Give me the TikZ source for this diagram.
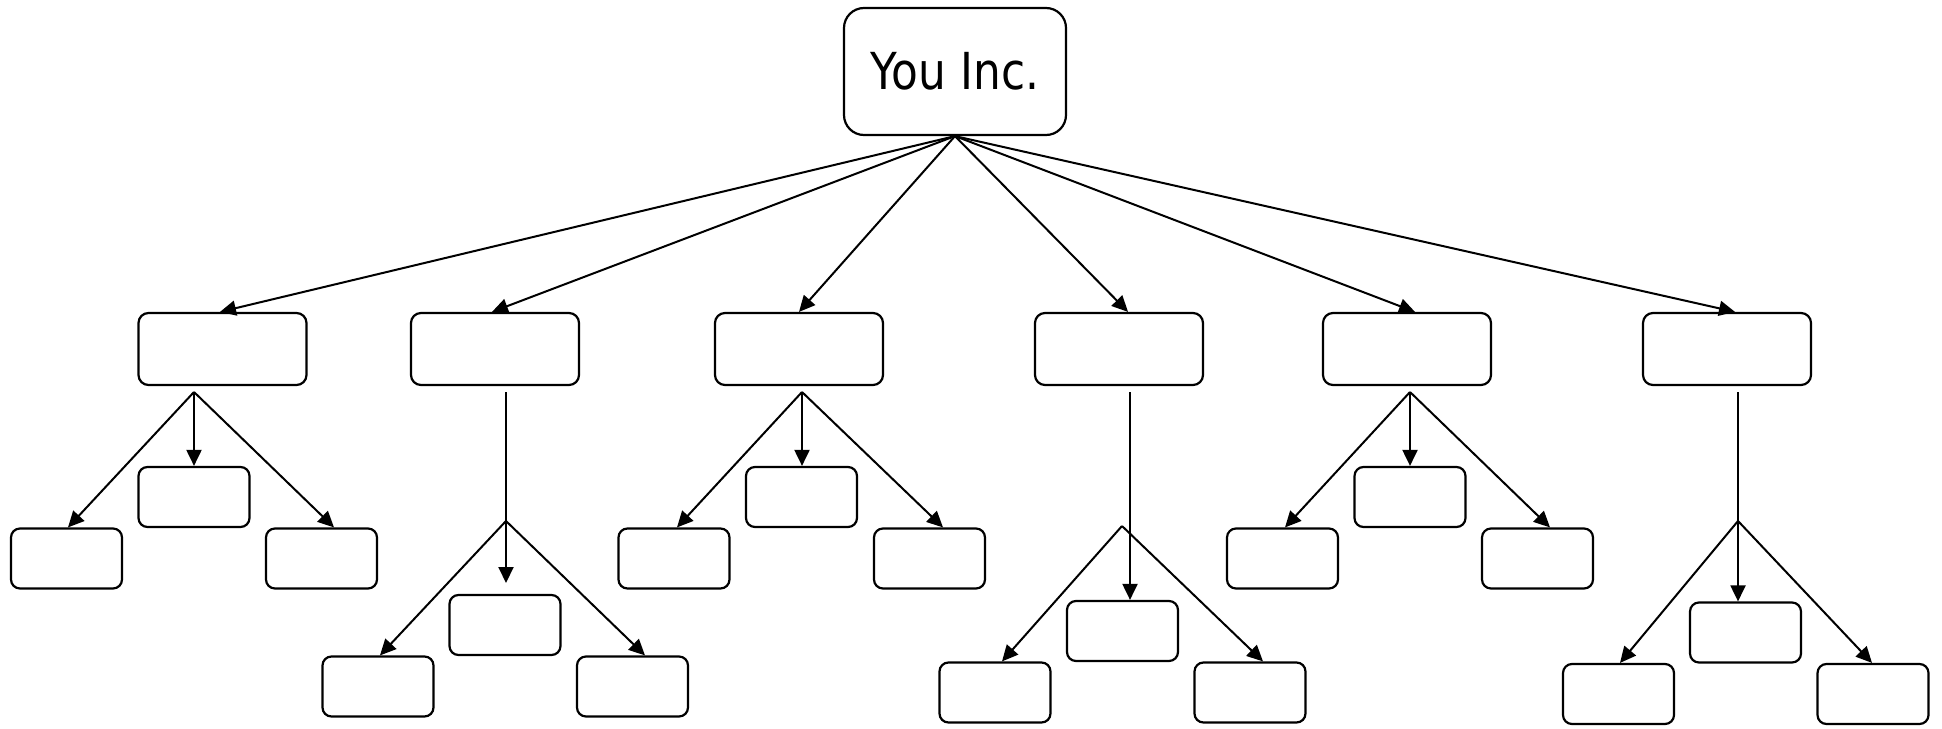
\documentclass[tikz,border=0pt]{standalone}
\usepackage{fontspec}
\newfontfamily\labelfont{DejaVu Sans}
\usetikzlibrary{arrows.meta,calc}
\begin{document}
\begin{tikzpicture}[x=1pt,y=-1pt,
  topbox/.style={draw,line width=2.2pt,rounded corners=20pt,inner sep=0pt,minimum width=222pt,minimum height=127pt},
  midbox/.style={draw,line width=2.2pt,rounded corners=10pt,inner sep=0pt,minimum width=168pt,minimum height=72pt},
  leafbox/.style={draw,line width=2.2pt,rounded corners=9pt,inner sep=0pt,minimum width=111pt,minimum height=60pt},
  conn/.style={line width=2pt,-{Triangle[length=16pt,width=15pt]}},
  stem/.style={line width=2pt}]
\fill[white] (0,0) rectangle (1942,728);
\useasboundingbox (0,0) rectangle (1942,728);

% top
\node[topbox] (top) at (955,71.5) {\labelfont\fontsize{51}{60}\selectfont\scalebox{0.86}[1]{You Inc.}};

% level 1
\node[midbox] (m1) at (222.5,349) {};
\node[midbox] (m2) at (495,349) {};
\node[midbox] (m3) at (799,349) {};
\node[midbox] (m4) at (1119,349) {};
\node[midbox] (m5) at (1407,349) {};
\node[midbox] (m6) at (1727,349) {};

% level 2
\node[leafbox] (a1) at (66.5,558.5) {};
\node[leafbox] (a2) at (194,497) {};
\node[leafbox] (a3) at (321.5,558.5) {};

\node[leafbox] (b1) at (378,686.5) {};
\node[leafbox] (b2) at (505,625) {};
\node[leafbox] (b3) at (632.5,686.5) {};

\node[leafbox] (c1) at (674,558.5) {};
\node[leafbox] (c2) at (801.5,497) {};
\node[leafbox] (c3) at (929.5,558.5) {};

\node[leafbox] (d1) at (995,692.5) {};
\node[leafbox] (d2) at (1122.5,631) {};
\node[leafbox] (d3) at (1250,692.5) {};

\node[leafbox] (e1) at (1282.5,558.5) {};
\node[leafbox] (e2) at (1410,497) {};
\node[leafbox] (e3) at (1537.5,558.5) {};

\node[leafbox] (f1) at (1618.5,694) {};
\node[leafbox] (f2) at (1745.5,632.5) {};
\node[leafbox] (f3) at (1873,694) {};

% top connectors
\draw[conn] (top.south) -- ($(m1.north)+(-2.5,0)$);
\draw[conn] (top.south) -- ($(m2.north)+(-3,0)$);
\draw[conn] (top.south) -- (m3.north);
\draw[conn] (top.south) -- ($(m4.north)+(9,0)$);
\draw[conn] (top.south) -- ($(m5.north)+(8,0)$);
\draw[conn] (top.south) -- ($(m6.north)+(8,0)$);

% branch coordinates
\coordinate (s1) at (194,392);
\coordinate (s2) at (506,392);
\coordinate (v2) at (506,521);
\coordinate (t2) at (506,583);
\coordinate (s3) at (802,392);
\coordinate (s4) at (1130,392);
\coordinate (v4) at (1122,526);
\coordinate (s5) at (1410,392);
\coordinate (s6) at (1738,392);
\coordinate (v6) at (1738,521);

% group 1
\draw[conn] (s1) -- (s1 |- a2.north);
\draw[conn] (s1) -- ($(a1.north)+(1.5,0)$);
\draw[conn] (s1) -- ($(a3.north)+(12.5,0)$);

% group 2
\draw[stem] (s2) -- (v2);
\draw[conn] (v2) -- (t2);
\draw[conn] (v2) -- ($(b1.north)+(2,0)$);
\draw[conn] (v2) -- ($(b3.north)+(12.5,0)$);

% group 3
\draw[conn] (s3) -- (s3 |- c2.north);
\draw[conn] (s3) -- ($(c1.north)+(3,0)$);
\draw[conn] (s3) -- ($(c3.north)+(13.5,0)$);

% group 4
\draw[conn] (s4) -- (s4 |- d2.north);
\draw[conn] (v4) -- ($(d1.north)+(7,0)$);
\draw[conn] (v4) -- ($(d3.north)+(13,0)$);

% group 5
\draw[conn] (s5) -- (s5 |- e2.north);
\draw[conn] (s5) -- ($(e1.north)+(2.5,0)$);
\draw[conn] (s5) -- ($(e3.north)+(12.5,0)$);

% group 6
\draw[stem] (s6) -- (v6);
\draw[conn] (v6) -- (v6 |- f2.north);
\draw[conn] (v6) -- ($(f1.north)+(1.5,0)$);
\draw[conn] (v6) -- ($(f3.north)+(-1,0)$);
\end{tikzpicture}
\end{document}
